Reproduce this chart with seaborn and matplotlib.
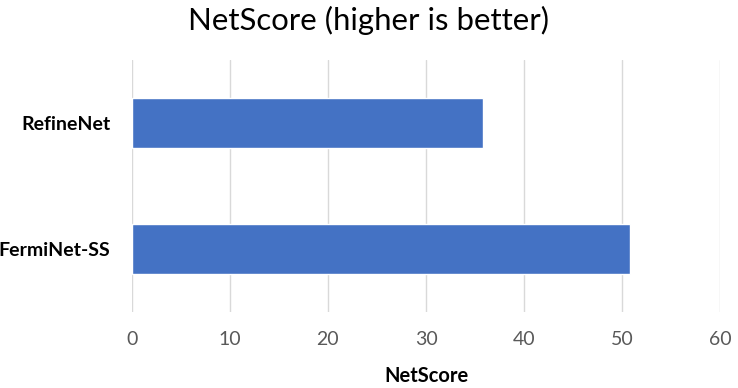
import matplotlib
matplotlib.use("Agg")
import matplotlib.pyplot as plt
import seaborn as sns
import pandas as pd

categories = ["RefineNet", "FermiNet-SS"]
scores = [35.8, 50.75]
xticks = [0, 10, 20, 30, 40, 50, 60]

sns.set_theme(style="white")
plt.rcParams['font.family'] = ['Lato', 'DejaVu Sans']

df = pd.DataFrame({"model": categories, "NetScore": scores})

fig = plt.figure(figsize=(7.38, 3.88), dpi=100)
ax = fig.add_axes([0.1785, 0.196, 0.7976, 0.649])
sns.barplot(data=df, y="model", x="NetScore", color="#4472C4", width=0.4,
            saturation=1, ax=ax, zorder=3)
ax.set_xlim(0, 60)
ax.set_ylim(1.5, -0.5)
ax.set_xticks(xticks)
ax.set_xticklabels([str(t) for t in xticks], color="#595959", fontsize=14)
ax.xaxis.grid(True, color="#d9d9d9", linewidth=1, zorder=0)
ax.tick_params(axis="x", length=0, pad=14)
ax.tick_params(axis="y", length=0, pad=15.5)
for lbl in ax.get_yticklabels():
    lbl.set_fontweight("bold")
    lbl.set_fontsize(14)
    lbl.set_color("black")
for s in ax.spines.values():
    s.set_visible(False)
ax.set_ylabel("")
ax.set_xlabel("NetScore", fontsize=14.5, fontweight="bold", color="black", labelpad=13)
fig.suptitle("NetScore (higher is better)", fontsize=22.4, y=0.985, color="black")
fig.savefig("out.png", dpi=100)
